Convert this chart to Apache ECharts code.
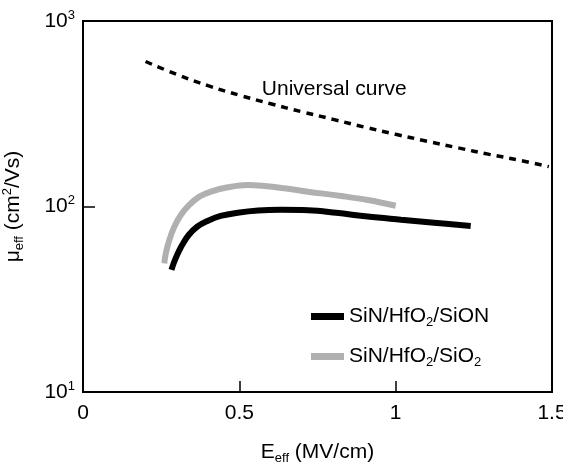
<!DOCTYPE html>
<html>
<head>
<meta charset="utf-8">
<script src="https://cdn.jsdelivr.net/npm/echarts@6/dist/echarts.min.js"></script>
<style>
  html, body { margin: 0; padding: 0; background: #fff; }
  #chart { width: 563px; height: 465px; }
</style>
</head>
<body>
<div id="chart"></div>
<script>
// Effective field (MV/cm) and effective mobility (cm^2/Vs) pairs
const universalE  = [0.2, 0.3, 0.4, 0.5, 0.6, 0.7, 0.8, 0.9, 1.0, 1.1, 1.2, 1.3, 1.4, 1.49];
const universalMu = [605, 515, 448, 398, 358, 324, 295, 268, 245, 225, 207, 191, 177, 164];

const sionE  = [0.283, 0.29, 0.301, 0.317, 0.338, 0.365, 0.4, 0.44, 0.495, 0.56, 0.633, 0.72, 0.81, 0.91, 1.017, 1.123, 1.24];
const sionMu = [45.5, 49.4, 54.8, 62.0, 70.2, 77.8, 83.8, 88.9, 92.6, 95.2, 96.0, 95.5, 92.5, 88.3, 84.9, 81.8, 78.5];

const sio2E  = [0.26, 0.265, 0.276, 0.292, 0.313, 0.34, 0.372, 0.409, 0.463, 0.527, 0.58, 0.644, 0.719, 0.825, 0.911, 1.0];
const sio2Mu = [49.4, 56.0, 65.9, 77.8, 90.0, 101.9, 113.0, 120.2, 126.9, 130.6, 129.0, 125.3, 120.2, 114.0, 108.4, 101.0];

const seriesNames = ['SiN/HfO2/SiON', 'SiN/HfO2/SiO2', 'Universal curve'];
const xTicks = [0, 0.5, 1, 1.5];
const yTickExponents = { 10: 1, 100: 2, 1000: 3 };
const universalLabelAt = [0.572, 430];

const pairs = (xs, ys) => xs.map((x, i) => [x, ys[i]]);

const FONT = "'Liberation Sans', Arial, sans-serif";
const rich = {
  m:   { fontFamily: FONT, fontSize: 21, color: '#000', lineHeight: 25 },
  sup: { fontFamily: FONT, fontSize: 13, color: '#000', verticalAlign: 'top', lineHeight: 13 },
  sub: { fontFamily: FONT, fontSize: 13, color: '#000', verticalAlign: 'bottom', lineHeight: 12 }
};

function legendRich(name) {
  // digits in formulas (HfO2, SiO2) are drawn as subscripts
  return name.split(/(\d)/).filter(s => s.length).map(s =>
    /^\d$/.test(s) ? '{sub|' + s + '}' : '{m|' + s + '}').join('');
}

const chart = echarts.init(document.getElementById('chart'), null, { renderer: 'canvas' });

chart.setOption({
  animation: false,
  backgroundColor: '#fff',
  grid: {
    left: 83, right: 11, top: 21, bottom: 73,
    outerBoundsMode: 'none', containLabel: false,
    show: true, borderColor: '#000', borderWidth: 2, backgroundColor: 'transparent'
  },
  legend: {
    data: [
      { name: seriesNames[0], icon: 'rect' },
      { name: seriesNames[1], icon: 'rect' }
    ],
    orient: 'vertical',
    left: 306, top: 301,
    itemWidth: 33, itemHeight: 7, itemGap: 17,
    formatter: legendRich,
    textStyle: { rich: rich }
  },
  xAxis: {
    type: 'value',
    min: 0, max: 1.5, interval: 0.5,
    name: '{m|E}{sub|eff}{m| (MV/cm)}',
    nameLocation: 'middle', nameGap: 48,
    nameTextStyle: { rich: rich },
    axisLine: { show: true, lineStyle: { color: '#000', width: 2 } },
    axisTick: { show: true, inside: true, length: 11, lineStyle: { color: '#000', width: 1.5 } },
    axisLabel: {
      margin: 11, color: '#000', fontFamily: FONT, fontSize: 21,
      hideOverlap: false,
      formatter: v => xTicks.includes(v) ? String(v) : ''
    },
    splitLine: { show: false }
  },
  yAxis: {
    type: 'log', logBase: 10, min: 10, max: 1000,
    name: '{m|μ}{sub|eff}{m| (cm}{sup|2}{m|/Vs)}',
    nameLocation: 'middle', nameGap: 57, nameRotate: 90,
    nameTextStyle: { rich: rich },
    axisLine: { show: true, lineStyle: { color: '#000', width: 2 } },
    axisTick: { show: true, inside: true, length: 12, lineStyle: { color: '#000', width: 1.5 } },
    minorTick: { show: false },
    axisLabel: {
      margin: 8, color: '#000',
      formatter: v => '{m|10}{sup|' + yTickExponents[Math.round(v)] + '}',
      rich: rich
    },
    splitLine: { show: false }
  },
  series: [
    {
      name: seriesNames[2], type: 'line', data: pairs(universalE, universalMu),
      smooth: 0.4, showSymbol: false, symbol: 'none', z: 1,
      lineStyle: { color: '#000', width: 3.5, type: [7, 6], cap: 'butt' },
      markPoint: {
        symbol: 'circle', symbolSize: 0,
        data: [{ coord: universalLabelAt, value: seriesNames[2] }],
        label: {
          show: true, position: 'right', distance: 0,
          formatter: '{m|' + seriesNames[2] + '}', rich: rich
        }
      }
    },
    {
      name: seriesNames[1], type: 'line', data: pairs(sio2E, sio2Mu),
      smooth: 0.4, showSymbol: false, symbol: 'none', z: 2,
      color: '#b0b0b0',
      lineStyle: { color: '#b0b0b0', width: 6, cap: 'butt' }
    },
    {
      name: seriesNames[0], type: 'line', data: pairs(sionE, sionMu),
      smooth: 0.4, showSymbol: false, symbol: 'none', z: 3,
      color: '#000',
      lineStyle: { color: '#000', width: 6, cap: 'butt' }
    }
  ]
});
</script>
</body>
</html>
